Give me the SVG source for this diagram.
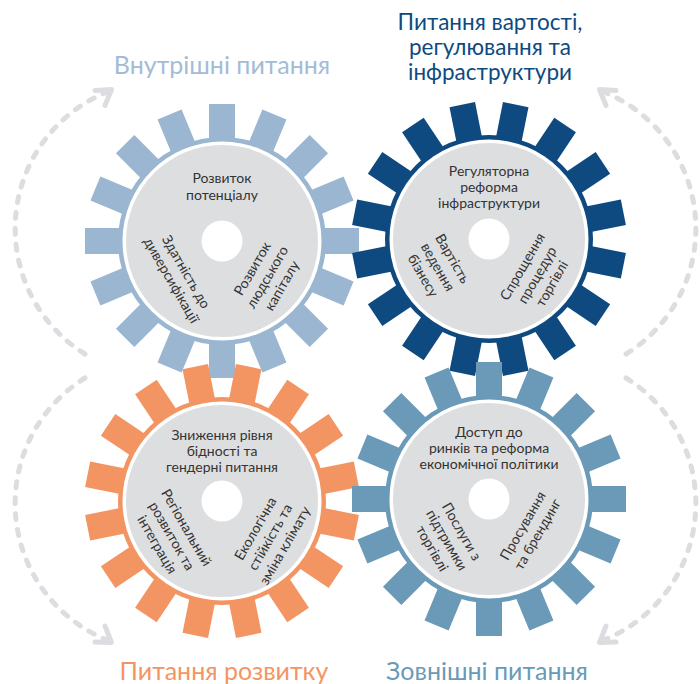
<svg xmlns="http://www.w3.org/2000/svg" xmlns:xlink="http://www.w3.org/1999/xlink" width="700" height="684" viewBox="0 0 700 684">
<style>
.t{font-family:Lato,'Liberation Sans','DejaVu Sans',sans-serif;font-size:14px;fill:#333;text-anchor:middle}
.h{font-family:Lato,'Liberation Sans','DejaVu Sans',sans-serif;font-size:25px;text-anchor:middle}
.h2{font-family:Lato,'Liberation Sans','DejaVu Sans',sans-serif;font-size:22.5px;text-anchor:middle;fill:#0e4a80}
.arc{fill:none;stroke:#dcdde0;stroke-width:5;stroke-linecap:round;stroke-dasharray:6 10}
.head{fill:none;stroke:#dcdde0;stroke-width:5;stroke-linecap:round;stroke-linejoin:round}
.ring{fill:#fff}
.disc{fill:#dddee0}
</style>
<defs>
<g id="teeth">
<circle r="104"/>
<rect x="-13" y="-137" width="26" height="42" transform="rotate(0)"/>
<rect x="-13" y="-137" width="26" height="42" transform="rotate(22.5)"/>
<rect x="-13" y="-137" width="26" height="42" transform="rotate(45)"/>
<rect x="-13" y="-137" width="26" height="42" transform="rotate(67.5)"/>
<rect x="-13" y="-137" width="26" height="42" transform="rotate(90)"/>
<rect x="-13" y="-137" width="26" height="42" transform="rotate(112.5)"/>
<rect x="-13" y="-137" width="26" height="42" transform="rotate(135)"/>
<rect x="-13" y="-137" width="26" height="42" transform="rotate(157.5)"/>
<rect x="-13" y="-137" width="26" height="42" transform="rotate(180)"/>
<rect x="-13" y="-137" width="26" height="42" transform="rotate(202.5)"/>
<rect x="-13" y="-137" width="26" height="42" transform="rotate(225)"/>
<rect x="-13" y="-137" width="26" height="42" transform="rotate(247.5)"/>
<rect x="-13" y="-137" width="26" height="42" transform="rotate(270)"/>
<rect x="-13" y="-137" width="26" height="42" transform="rotate(292.5)"/>
<rect x="-13" y="-137" width="26" height="42" transform="rotate(315)"/>
<rect x="-13" y="-137" width="26" height="42" transform="rotate(337.5)"/>
</g>
<g id="face">
<circle class="ring" r="99.5"/>
<circle class="disc" r="96"/>
<circle class="ring" r="20.5"/>
</g>
</defs>
<rect width="700" height="684" fill="#fff"/>

<g id="connectors">
<path class="arc" d="M85 354 A147.5 147.5 0 0 1 107 92"/>
<path class="head" d="M95 90.5 L111.5 89.5 L105 105.5"/>
<path class="arc" d="M85 378 A147.5 147.5 0 0 0 107 640"/>
<path class="head" d="M95 642 L111.5 642.5 L105 626"/>
<path class="arc" d="M626 354 A147.5 147.5 0 0 0 604 92"/>
<path class="head" d="M616 90.5 L599.5 89.5 L606 105.5"/>
<path class="arc" d="M626 378 A147.5 147.5 0 0 1 604 640"/>
<path class="head" d="M616 642 L599.5 642.5 L606 626"/>
</g>

<g id="gear-internal" transform="translate(222,241)">
<use xlink:href="#teeth" href="#teeth" fill="#9ab6d0"/>
<use xlink:href="#face" href="#face"/>
<text class="t" y="-58">Розвиток</text>
<text class="t" y="-41">потенціалу</text>
<g transform="translate(-43,35) rotate(60)">
<text class="t" y="-3.5">Здатність до</text>
<text class="t" y="13.5">диверсифікації</text>
</g>
<g transform="translate(45,36) rotate(-60)">
<text class="t" y="-12">Розвиток</text>
<text class="t" y="5">людського</text>
<text class="t" y="22">капіталу</text>
</g>
</g>

<g id="gear-value" transform="translate(489,239)">
<use xlink:href="#teeth" href="#teeth" fill="#0e4a80" transform="rotate(11.25)"/>
<use xlink:href="#face" href="#face"/>
<text class="t" y="-63">Регуляторна</text>
<text class="t" y="-47">реформа</text>
<text class="t" y="-31">інфраструктури</text>
<g transform="translate(-51,28) rotate(60)">
<text class="t" y="-12">Вартість</text>
<text class="t" y="5">ведення</text>
<text class="t" y="22">бізнесу</text>
</g>
<g transform="translate(48,36) rotate(-60)">
<text class="t" y="-12">Спрощення</text>
<text class="t" y="5">процедур</text>
<text class="t" y="22">торгівлі</text>
</g>
</g>

<g id="gear-development" transform="translate(222,501)">
<use xlink:href="#teeth" href="#teeth" fill="#f39562" transform="rotate(11.25)"/>
<use xlink:href="#face" href="#face"/>
<text class="t" y="-61">Зниження рівня</text>
<text class="t" y="-45">бідності та</text>
<text class="t" y="-29">гендерні питання</text>
<g transform="translate(-50,35) rotate(60)">
<text class="t" y="-12">Регіональний</text>
<text class="t" y="5">розвиток та</text>
<text class="t" y="22">інтеграція</text>
</g>
<g transform="translate(48,36) rotate(-60)">
<text class="t" y="-12">Екологічна</text>
<text class="t" y="5">стійкість та</text>
<text class="t" y="22">зміна клімату</text>
</g>
</g>

<g id="gear-external" transform="translate(489,499)">
<use xlink:href="#teeth" href="#teeth" fill="#6a9ab8"/>
<use xlink:href="#face" href="#face"/>
<text class="t" y="-62">Доступ до</text>
<text class="t" y="-46">ринків та реформа</text>
<text class="t" y="-30">економічної політики</text>
<g transform="translate(-42,41) rotate(60)">
<text class="t" y="-12">Послуги з</text>
<text class="t" y="5">підтримки</text>
<text class="t" y="22">торгівлі</text>
</g>
<g transform="translate(41,31) rotate(-60)">
<text class="t" y="-3.5">Просування</text>
<text class="t" y="13.5">та брендинг</text>
</g>
</g>

<g id="titles">
<text class="h" x="222" y="74" fill="#a3bcd5">Внутрішні питання</text>
<text class="h2" x="490" y="30">Питання вартості,</text>
<text class="h2" x="490" y="55">регулювання та</text>
<text class="h2" x="490" y="80">інфраструктури</text>
<text class="h" x="224" y="680" fill="#f39562">Питання розвитку</text>
<text class="h" x="487" y="680" fill="#6a9ab8">Зовнішні питання</text>
</g>
</svg>
